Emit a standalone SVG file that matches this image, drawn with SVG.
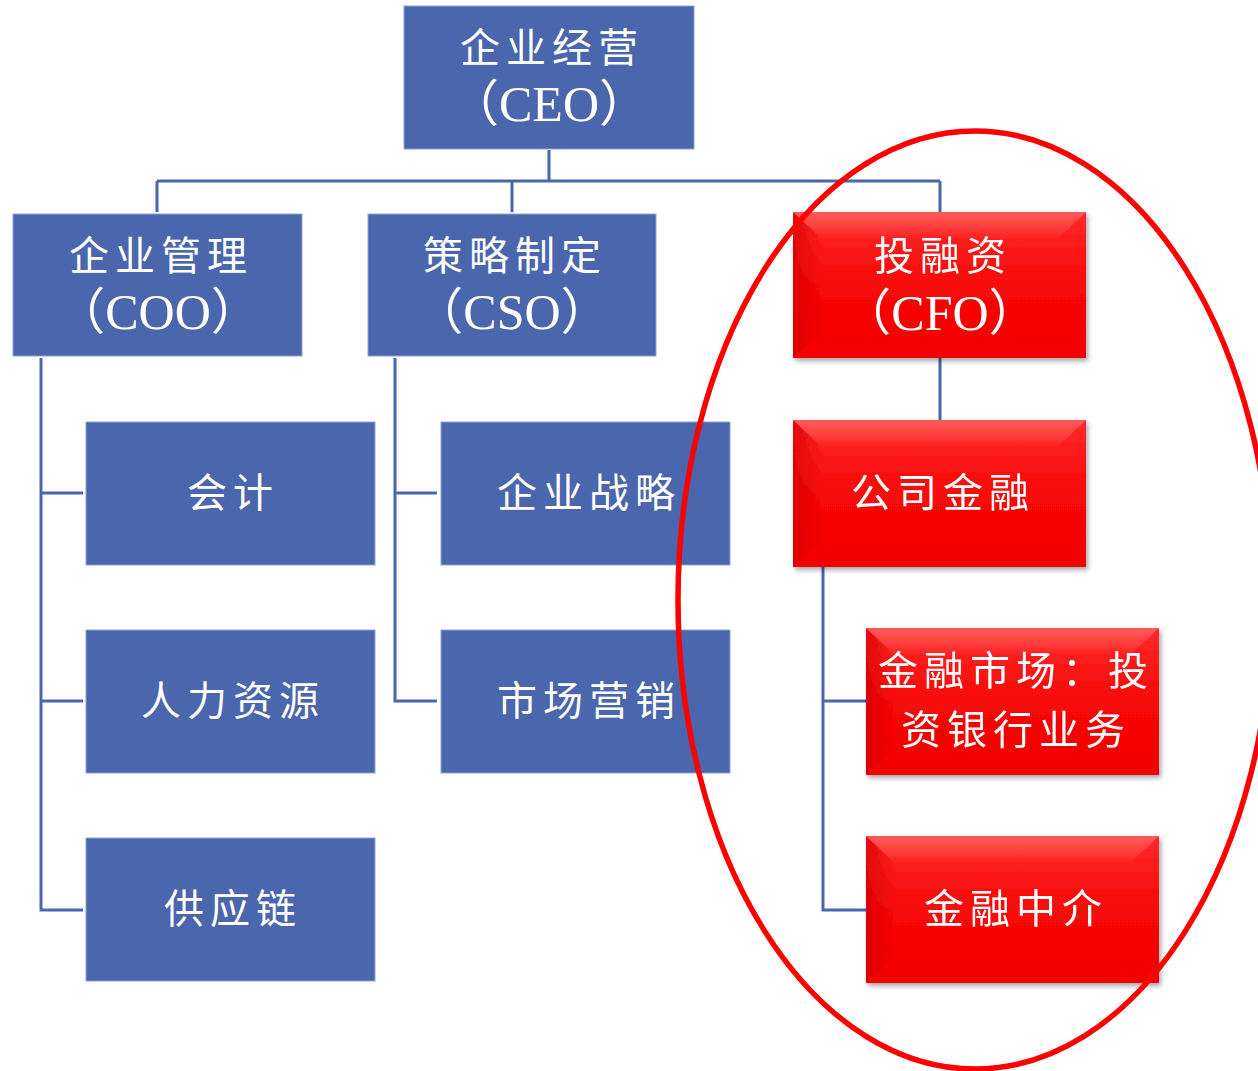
<svg xmlns="http://www.w3.org/2000/svg" width="1258" height="1071" viewBox="0 0 1258 1071">
<style>
.blue{fill:#4A66AC;stroke:#8EA3D3;stroke-width:1}
.t{fill:#fff;font-family:"Noto Sans CJK SC","Liberation Serif",serif;font-size:40px;text-anchor:middle;letter-spacing:6px}
.lat{font-family:"Liberation Serif","Noto Sans CJK SC",serif;font-size:50px;letter-spacing:0}
.conn{fill:none;stroke:#4A66AC;stroke-width:3}
</style>
<defs>
<linearGradient id="rg" x1="0" y1="0" x2="0" y2="1">
<stop offset="0" stop-color="#ff2a2a"/>
<stop offset="0.5" stop-color="#f80808"/>
<stop offset="1" stop-color="#f40000"/>
</linearGradient>
<linearGradient id="lg" x1="0" y1="0" x2="1" y2="0">
<stop offset="0" stop-color="#d80000" stop-opacity="0.8"/>
<stop offset="1" stop-color="#d80000" stop-opacity="0"/>
</linearGradient>
<linearGradient id="tg" x1="0" y1="0" x2="0" y2="1">
<stop offset="0" stop-color="#ff6060" stop-opacity="0.9"/>
<stop offset="1" stop-color="#ff6060" stop-opacity="0"/>
</linearGradient>
<filter id="sh" x="-10%" y="-10%" width="125%" height="125%">
<feDropShadow dx="2" dy="3" stdDeviation="2.5" flood-color="#000" flood-opacity="0.35"/>
</filter>
<symbol id="redbox" viewBox="0 0 293 146" preserveAspectRatio="none">
<rect x="0" y="0" width="293" height="146" fill="url(#rg)"/>
<polygon points="0,0 30,28 30,118 0,146" fill="url(#lg)"/>
<polygon points="0,0 293,0 263,28 30,28" fill="url(#tg)"/>
</symbol>
</defs>
<rect width="1258" height="1071" fill="#fff"/>
<g id="connectors">
<path class="conn" d="M549,150 V181 M157,181 H940 M157,181 V212 M512,181 V212 M940,181 V214"/>
<path class="conn" d="M41,358 V910 H83 M41,493 H83 M41,701 H83"/>
<path class="conn" d="M395,358 V701 H437 M395,493 H437"/>
<path class="conn" d="M940,358 V420"/>
<path class="conn" d="M823,567 V910 H866 M823,701 H866"/>
</g>
<g id="ceo"><rect class="blue" x="404" y="6" width="290" height="143"/><text class="t" x="552" y="62">企业经营</text><text class="t lat" x="549" y="121">（CEO）</text></g>
<g id="coo"><rect class="blue" x="13" y="214" width="289" height="142"/><text class="t" x="161" y="270">企业管理</text><text class="t lat" x="158" y="329">（COO）</text></g>
<g id="cso"><rect class="blue" x="368" y="214" width="288" height="142"/><text class="t" x="515" y="270">策略制定</text><text class="t lat" x="512" y="329">（CSO）</text></g>
<g id="kuaiji"><rect class="blue" x="86" y="422" width="289" height="143"/><text class="t" x="233" y="507">会计</text></g>
<g id="renli"><rect class="blue" x="86" y="630" width="289" height="143"/><text class="t" x="233" y="715">人力资源</text></g>
<g id="gongying"><rect class="blue" x="86" y="838" width="289" height="143"/><text class="t" x="233" y="923">供应链</text></g>
<g id="zhanlue"><rect class="blue" x="441" y="422" width="289" height="143"/><text class="t" x="589" y="507">企业战略</text></g>
<g id="yingxiao"><rect class="blue" x="441" y="630" width="289" height="143"/><text class="t" x="589" y="715">市场营销</text></g>
<g id="cfo" filter="url(#sh)"><use href="#redbox" x="793" y="212" width="293" height="146"/><text class="t" x="943" y="270">投融资</text><text class="t lat" x="940" y="330">（CFO）</text></g>
<g id="gongsi" filter="url(#sh)"><use href="#redbox" x="793" y="420" width="293" height="147"/><text class="t" x="943" y="507">公司金融</text></g>
<g id="shichang" filter="url(#sh)"><use href="#redbox" x="866" y="628" width="293" height="147"/><text class="t" x="1016" y="685">金融市场：投</text><text class="t" x="1016" y="744">资银行业务</text></g>
<g id="zhongjie" filter="url(#sh)"><use href="#redbox" x="866" y="836" width="293" height="147"/><text class="t" x="1016" y="923">金融中介</text></g>
<ellipse cx="975" cy="600" rx="297" ry="469" fill="none" stroke="#ff0000" stroke-width="5.5"/>
</svg>
